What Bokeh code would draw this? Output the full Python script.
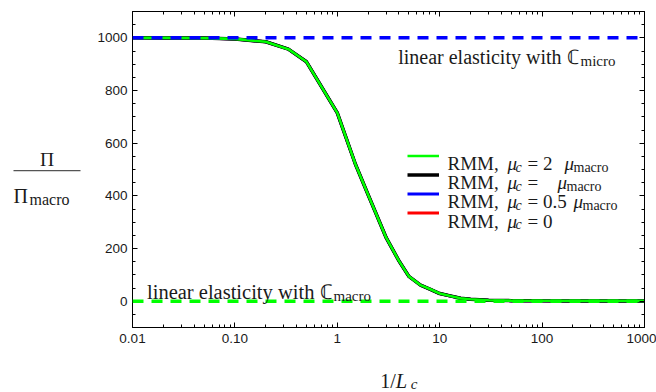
from bokeh.plotting import figure
from bokeh.layouts import row, column
from bokeh.models import (Range1d, FixedTicker, LinearAxis, LogAxis, Span, Label,
                          BoxAnnotation, Legend, LegendItem, ColumnDataSource,
                          CustomJSTickFormatter)
from bokeh.core.properties import value
from bokeh.embed import file_html
from bokeh.resources import INLINE

# ---------------- data ----------------
inv_Lc = [0.01, 0.02, 0.05, 0.1, 0.2, 0.333, 0.5, 1, 1.5, 2, 3, 4, 5, 6.5, 8,
          10, 13, 16, 20, 30, 50, 100, 200, 500, 1000]
rmm_mu_2 = [1000, 999.7, 999, 996, 985, 957, 909, 715, 521, 404, 241, 153, 94, 61, 46,
            29, 19, 11, 7, 3.5, 2, 1.3, 1.1, 1.0, 1.0]
rmm_mu_1 = [1000, 999.7, 999, 996, 985, 957, 909, 715, 521, 404, 241, 153, 94, 61, 46,
            29, 19, 11, 7, 3.5, 2, 1.3, 1.1, 1.0, 1.0]
rmm_mu_05 = [1000, 999.7, 999, 996, 985, 957, 909, 715, 521, 404, 241, 153, 94, 61, 46,
             29, 19, 11, 7, 3.5, 2, 1.3, 1.1, 1.0, 1.0]
rmm_mu_0 = [1000, 999.7, 999, 996, 985, 957, 909, 715, 521, 404, 241, 153, 94, 61, 46,
            29, 19, 11, 7, 3.5, 2, 1.3, 1.1, 1.0, 1.0]
micro_level = 1000
macro_level = 0
x_ticks = [0.01, 0.1, 1, 10, 100, 1000]
x_tick_labels = ["0.01", "0.10", "1", "10", "100", "1000"]
y_ticks = [0, 200, 400, 600, 800, 1000]
y_tick_labels = ["0", "200", "400", "600", "800", "1000"]

# ---------------- layout constants ----------------
W, H = 656, 392
YLAB_W = 90                     # width of the y-label strip
FL = 132                        # frame left (canvas px)
FT = 11                         # frame top
FB = 327                        # frame bottom
FR_B = 12                       # right border
MAIN_BB = 27                    # bottom border of main figure
MAIN_H = FB + MAIN_BB           # 354
XLAB_H = H - MAIN_H             # 38
SERIF = "Liberation Serif"
SANS = "Liberation Sans"
TXT = "#1a1a1a"

p = figure(width=W - YLAB_W, height=MAIN_H, x_axis_type="log",
           x_range=Range1d(0.01, 1000), y_range=Range1d(-100, 1100),
           output_backend="svg", toolbar_location=None,
           min_border_left=FL - YLAB_W, min_border_right=FR_B,
           min_border_top=FT, min_border_bottom=MAIN_BB)
p.background_fill_color = "white"
p.border_fill_color = "white"
p.outline_line_color = "black"
p.xgrid.grid_line_color = None
p.ygrid.grid_line_color = None

x_minor = [k * 10.0 ** e for e in range(-2, 3) for k in range(2, 10)]
y_minor = [v for v in range(-50, 1100, 50) if v % 200 != 0]
xt = FixedTicker(ticks=x_ticks, minor_ticks=x_minor)
yt = FixedTicker(ticks=y_ticks, minor_ticks=y_minor)


def fmt(tv, tl, log):
    if log:
        code = ("const i = tvals.findIndex(t => Math.abs(Math.log10(t) - Math.log10(tick)) < 1e-6);"
                "return i >= 0 ? tlabels[i] : '';")
    else:
        code = ("const i = tvals.findIndex(t => Math.abs(t - tick) < 1e-6);"
                "return i >= 0 ? tlabels[i] : '';")
    return CustomJSTickFormatter(args=dict(tvals=tv, tlabels=tl), code=code)


def style_axis(ax, labels):
    ax.axis_line_color = "black"
    ax.axis_line_width = 1
    ax.major_tick_in = 5
    ax.major_tick_out = 0
    ax.minor_tick_in = 3
    ax.minor_tick_out = 0
    ax.major_tick_line_color = "black"
    ax.minor_tick_line_color = "black"
    if labels:
        ax.major_label_text_font = SANS
        ax.major_label_text_font_size = "13.5px"
        ax.major_label_text_color = TXT
    else:
        ax.major_label_text_font_size = "2px"
        ax.major_label_text_color = None
        ax.major_label_standoff = 0


bottom = p.below[0]
bottom.ticker = xt
bottom.formatter = fmt(x_ticks, x_tick_labels, True)
bottom.major_label_standoff = 6
style_axis(bottom, True)

left = p.left[0]
left.ticker = yt
left.formatter = fmt(y_ticks, y_tick_labels, False)
left.major_label_standoff = 5
style_axis(left, True)

top = LogAxis(ticker=xt)
style_axis(top, False)
p.add_layout(top, "above")
right = LinearAxis(ticker=yt)
style_axis(right, False)
p.add_layout(right, "right")

# ---------------- curves ----------------
src = ColumnDataSource(dict(x=inv_Lc, mu2=rmm_mu_2, mu1=rmm_mu_1,
                            mu05=rmm_mu_05, mu0=rmm_mu_0))
r_red = p.line("x", "mu0", source=src, line_color="#ff0000", line_width=3)
r_blue = p.line("x", "mu05", source=src, line_color="#0000ff", line_width=3)
r_black = p.line("x", "mu1", source=src, line_color="black", line_width=3.5)
r_green = p.line("x", "mu2", source=src, line_color="#00ff00", line_width=2.6)

p.add_layout(Span(location=micro_level, dimension="width", line_color="#0000ff",
                  line_width=3.5, line_dash="11 8"))
p.add_layout(Span(location=macro_level, dimension="width", line_color="#00ff00",
                  line_width=3.5, line_dash="11 8"))

# ---------------- legend (samples) ----------------
legend = Legend(items=[LegendItem(label=value(" "), renderers=[r]) for r in
                       (r_green, r_black, r_blue, r_red)],
                location=(275, FB - 221.5), orientation="vertical",
                glyph_width=32, glyph_height=19, label_height=19, label_width=1,
                label_standoff=0, spacing=0, padding=0, margin=0,
                border_line_color=None, background_fill_alpha=0,
                label_text_font_size="8px")
p.add_layout(legend)


def put(fig, txt, x, y, size, italic=False, align="left", units="data"):
    fig.add_layout(Label(x=x, y=y, x_units=units, y_units=units,
                         text=txt, text_font=SERIF, text_font_size=f"{size}px",
                         text_font_style="italic" if italic else "normal",
                         text_align=align, text_baseline="alphabetic",
                         text_color=TXT))


def put_main(txt, cx, cy, size, italic=False, align="left"):
    put(p, txt, cx - FL, FB - cy, size, italic, align, units="screen")


# legend texts: (text, x, italic, subscript)
legend_rows = [
    [("RMM,", 447, False, False), ("μ", 507, True, False), ("c", 515, True, True),
     ("= 2", 527, False, False), ("μ", 564, True, False), ("macro", 573, False, True)],
    [("RMM,", 447, False, False), ("μ", 507, True, False), ("c", 515, True, True),
     ("=", 527, False, False), ("μ", 557, True, False), ("macro", 566, False, True)],
    [("RMM,", 447, False, False), ("μ", 507, True, False), ("c", 515, True, True),
     ("= 0.5", 527, False, False), ("μ", 573, True, False), ("macro", 582, False, True)],
    [("RMM,", 447, False, False), ("μ", 507, True, False), ("c", 515, True, True),
     ("= 0", 527, False, False)],
]
for i, row_ in enumerate(legend_rows):
    base = 163 + 19.2 * i
    for txt, x, it, sub in row_:
        put_main(txt, x, base + (3.5 if sub else 0), 14 if sub else 19, italic=it)

# reference line annotations
put_main("linear elasticity with ℂ", 579, 56, 20, align="right")
put_main("micro", 580, 60.5, 15)
put_main("linear elasticity with ℂ", 332, 291, 20.5, align="right")
put_main("macro", 333, 295.5, 15)


# ---------------- label strips (canvas coordinates) ----------------
def blank_fig(w, h, xr, yr):
    f = figure(width=w, height=h, x_range=Range1d(*xr), y_range=Range1d(*yr),
               output_backend="svg", toolbar_location=None,
               x_axis_location=None, y_axis_location=None,
               min_border_left=0, min_border_right=0,
               min_border_top=0, min_border_bottom=0)
    f.outline_line_color = None
    f.background_fill_color = "white"
    f.border_fill_color = "white"
    f.grid.visible = False
    return f


yfig = blank_fig(YLAB_W, H, (0, YLAB_W), (H, 0))
put(yfig, "Π", 46.5, 158.5, 19.5, align="center")
yfig.add_layout(BoxAnnotation(left=13, right=80, top=169.4, bottom=170.8,
                              fill_color="#555555", fill_alpha=1, line_color=None))
put(yfig, "Π", 13, 195.5, 20)
put(yfig, "macro", 29, 198.5, 16)

xfig = blank_fig(W - YLAB_W, XLAB_H, (YLAB_W, W), (H, MAIN_H))
put(xfig, "1/", 381, 380, 20, align="right")
put(xfig, "L", 381, 380, 20.5, italic=True)
put(xfig, "c", 397.5, 383.5, 15, italic=True)

layout = row(yfig, column(p, xfig, spacing=0), spacing=0)
open("out.html", "w").write(file_html(layout, INLINE))
